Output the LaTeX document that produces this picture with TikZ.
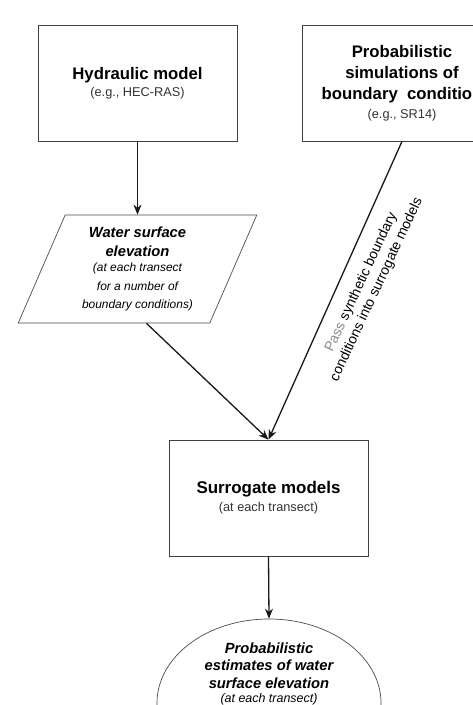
\documentclass[tikz,border=0pt]{standalone}
\usepackage{fontspec}
\setmainfont{Liberation Sans}
\usetikzlibrary{shapes.geometric,arrows.meta,calc}
\newcommand{\ttlfont}{\fontsize{16.8}{21.5}\selectfont\bfseries}
\newcommand{\subfont}{\fontsize{12.8}{15}\selectfont\mdseries\color{black!80}}
\begin{document}
\begin{tikzpicture}[x=1bp,y=-1bp,
  box/.style={draw=black!75, line width=0.8bp, minimum width=199bp, minimum height=116bp, inner sep=0pt, align=center},
  conn/.style={draw=black!90, line width=1.3bp, -{Stealth[length=10bp,width=8bp]}}
]
\clip (0,0) rectangle (473,705);
\fill[white] (0,0) rectangle (473,705);
\node[box, font=\ttlfont] (hyd) at (137.5,83) {Hydraulic model\\[-4bp]\subfont (e.g., HEC-RAS)};
\node[box, font=\ttlfont] (prob) at (402,83) {Probabilistic\\ simulations of\\ boundary\ \ condition\\[-3bp]\subfont (e.g., SR14)};
\node[draw=black!70, line width=0.7bp, trapezium, trapezium left angle=67, trapezium right angle=113, trapezium stretches=true, minimum width=239bp, minimum height=108bp, inner sep=0pt, align=center, font=\fontsize{14.8}{19}\selectfont\bfseries\itshape] (para) at (137.5,269) {Water surface\\ elevation\\[-4bp] \fontsize{12}{15}\selectfont\mdseries\itshape (at each transect\\ \fontsize{12}{15}\selectfont\mdseries\itshape for a number of\\ \fontsize{12}{15}\selectfont\mdseries\itshape boundary conditions)};
\node[box, font=\fontsize{17}{20}\selectfont\bfseries] (sur) at (268.5,498) {Surrogate models\\[-2bp]\subfont (at each transect)};
\node[draw=black!70, line width=0.7bp, ellipse, minimum width=224bp, minimum height=168bp, inner sep=0pt] (ell) at (269,703) {};
\node[align=center, font=\fontsize{14.8}{17.5}\selectfont\bfseries\itshape] (elltxt) at (269,674) {Probabilistic\\ estimates of water\\ surface elevation\\[-3bp] \fontsize{12.5}{15}\selectfont\mdseries\itshape (at each transect)};
\coordinate (paraout) at ($(para.south)+(9,0)$);
\draw[conn] (hyd.south) -- (hyd.south |- para.north);
\draw[conn] (paraout) -- (sur.north);
\draw[conn] (prob.south) -- (sur.north);
\draw[conn] (sur.south) -- (ell.north);
\node[rotate=65, align=center, font=\fontsize{14}{17}\selectfont, inner sep=0pt] (lab) at (369,286) {\textcolor{black!45}{Pass} synthetic boundary\\ conditions into surrogate models};
\end{tikzpicture}
\end{document}
